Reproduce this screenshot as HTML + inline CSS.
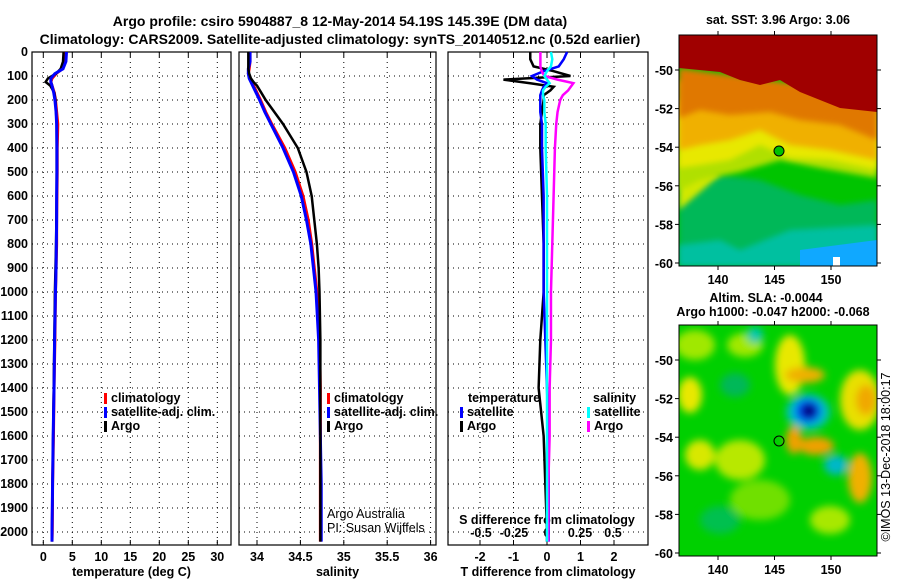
<!DOCTYPE html>
<html><head><meta charset="utf-8"><style>
body{margin:0;background:#fff;width:900px;height:580px;overflow:hidden;font-family:"Liberation Sans",sans-serif}
svg text{font-family:"Liberation Sans",sans-serif;font-weight:bold;font-size:12.5px;fill:#000}
</style></head><body>
<svg id="c" width="900" height="580" xmlns="http://www.w3.org/2000/svg">
<text x="340" y="26" text-anchor="middle" style="font-size:14px">Argo profile: csiro 5904887_8 12-May-2014 54.19S 145.39E (DM data)</text>
<text x="340" y="44" text-anchor="middle" style="font-size:14px">Climatology: CARS2009. Satellite-adjusted climatology: synTS_20140512.nc (0.52d earlier)</text>
<g id="p1"></g>
<g id="p2"></g>
<g id="p3"></g>
<defs>
<clipPath id="m1c"><rect x="679" y="35" width="198" height="231"/></clipPath>
<clipPath id="m2c"><rect x="679" y="325" width="198" height="231"/></clipPath>
<filter id="bl"><feGaussianBlur stdDeviation="4"/></filter>
<filter id="bl2"><feGaussianBlur stdDeviation="3"/></filter>
</defs>
<g>
<text x="778" y="24" text-anchor="middle">sat. SST: 3.96 Argo: 3.06</text>
<g clip-path="url(#m1c)">
<rect x="679" y="35" width="198" height="231" fill="#00c400"/>
<polygon points="679,170 720,175 760,180 800,195 840,205 877,200 877,266 679,266" fill="#00b858" filter="url(#bl2)"/>
<polygon points="679,245 720,240 740,250 790,230 877,225 877,266 679,266" fill="#00c0a0" filter="url(#bl2)"/>
<polygon points="800,250 877,240 877,266 800,266" fill="#10a8ff"/>
<polygon points="679,150 700,160 720,175 679,210" fill="#d0e800" filter="url(#bl2)"/>
<polygon points="679,110 877,120 877,178 820,168 780,160 740,172 700,180 679,190" fill="#b0e000" filter="url(#bl2)"/>
<polygon points="679,100 877,110 877,170 830,160 790,158 760,145 730,160 700,165 679,168" fill="#e8e800" filter="url(#bl2)"/>
<polygon points="679,80 877,95 877,160 830,150 790,145 760,130 730,140 700,145 679,150" fill="#f0b000" filter="url(#bl2)"/>
<polygon points="679,68 877,95 877,140 840,125 800,120 770,112 730,115 700,110 679,118" fill="#e07800" filter="url(#bl2)"/>
<polygon points="679,35 877,35 877,112 840,108 820,100 800,92 780,80 760,85 740,80 720,72 679,68" fill="#a00000"/>
<rect x="833" y="257" width="7" height="9" fill="#fff"/>
</g>
<rect x="679" y="35" width="198" height="231" fill="none" stroke="#000"/>
<circle cx="779" cy="151" r="5" fill="#00c000" stroke="#000"/>
<g id="m1ax"></g>
</g>
<g>
<text x="766" y="302" text-anchor="middle">Altim. SLA: -0.0044</text>
<text x="773" y="316" text-anchor="middle">Argo h1000: -0.047 h2000: -0.068</text>
<g clip-path="url(#m2c)">
<rect x="679" y="325" width="198" height="231" fill="#00d000"/>
<g filter="url(#bl)">
<ellipse cx="695" cy="345" rx="20" ry="15" fill="#a0e800"/>
<ellipse cx="745" cy="345" rx="18" ry="12" fill="#a0e800"/>
<ellipse cx="755" cy="335" rx="8" ry="8" fill="#00c8b0"/>
<ellipse cx="790" cy="365" rx="15" ry="30" fill="#e8e800"/>
<ellipse cx="805" cy="375" rx="20" ry="8" fill="#f0b000"/>
<ellipse cx="860" cy="400" rx="20" ry="30" fill="#e8e000"/>
<ellipse cx="866" cy="400" rx="10" ry="15" fill="#f0a800"/>
<ellipse cx="690" cy="395" rx="12" ry="18" fill="#e8e800"/>
<ellipse cx="735" cy="385" rx="15" ry="12" fill="#00b858"/>
<ellipse cx="740" cy="460" rx="25" ry="20" fill="#b8e800"/>
<ellipse cx="700" cy="455" rx="15" ry="15" fill="#d8e800"/>
<ellipse cx="794" cy="440" rx="8" ry="14" fill="#f0a000"/>
<ellipse cx="816" cy="446" rx="18" ry="9" fill="#f0a000"/>
<ellipse cx="860" cy="478" rx="12" ry="25" fill="#f0b000"/>
<ellipse cx="836" cy="465" rx="12" ry="10" fill="#00b8c8"/>
<ellipse cx="808" cy="412" rx="22" ry="18" fill="#00c0c0"/>
<ellipse cx="808" cy="411" rx="13" ry="12" fill="#0050ff"/>
<ellipse cx="809" cy="411" rx="8" ry="8" fill="#000080"/>
<ellipse cx="720" cy="520" rx="20" ry="14" fill="#00c050"/>
<ellipse cx="830" cy="520" rx="20" ry="14" fill="#a8e800"/>
<ellipse cx="760" cy="500" rx="30" ry="20" fill="#70e000"/>
</g>
</g>
<rect x="679" y="325" width="198" height="231" fill="none" stroke="#000"/>
<circle cx="779" cy="441" r="5" fill="none" stroke="#000"/>
<g id="m2ax"></g>
<text transform="translate(890,457) rotate(-90)" text-anchor="middle" style="font-weight:normal;font-size:12.5px">©IMOS 13-Dec-2018 18:00:17</text>
</g>
</svg>
<script>
// ---- data ----
const depthTicks=[0,100,200,300,400,500,600,700,800,900,1000,1100,1200,1300,1400,1500,1600,1700,1800,1900,2000];
const tempTicks=[0,5,10,15,20,25,30];
const salTicks=[34,34.5,35,35.5,36];
const salTickLabels=["34","34.5","35","35.5","36"];
const tdTicks=[-2,-1,0,1,2];
const sdTicks=[-0.5,-0.25,0,0.25,0.5];
const sdTickLabels=["-0.5","-0.25","0","0.25","0.5"];
const profDepth=[0,40,70,90,110,125,140,170,200,250,300,400,500,600,700,800,900,1000,1200,1400,1600,1800,2000,2040];
const tempArgo=[3.5,3.4,3.0,2.2,0.8,0.4,1.2,1.9,2.1,2.2,2.3,2.3,2.3,2.3,2.25,2.2,2.1,2.0,1.9,1.8,1.7,1.6,1.5,1.5];
const tempClim=[3.7,3.6,3.3,2.2,1.5,1.3,1.5,1.9,2.1,2.3,2.5,2.4,2.4,2.35,2.3,2.3,2.2,2.1,2.0,1.85,1.75,1.6,1.55,1.5];
const tempSat=[4.0,3.9,3.4,2.0,1.3,1.3,1.5,1.8,2.0,2.2,2.3,2.35,2.35,2.3,2.3,2.25,2.2,2.1,1.95,1.85,1.7,1.6,1.5,1.5];
const salArgo=[33.9,33.9,33.9,33.91,33.93,33.96,34.0,34.05,34.1,34.2,34.3,34.47,34.57,34.63,34.66,34.69,34.71,34.72,34.73,34.73,34.73,34.73,34.73,34.73];
const salClim=[33.92,33.92,33.91,33.9,33.92,33.94,33.96,34.0,34.04,34.1,34.17,34.32,34.44,34.53,34.59,34.63,34.66,34.69,34.72,34.73,34.73,34.73,34.73,34.73];
const salSat=[33.92,33.92,33.9,33.9,33.91,33.93,33.95,33.99,34.03,34.09,34.16,34.3,34.42,34.51,34.57,34.62,34.65,34.68,34.71,34.72,34.73,34.74,34.74,34.74];
const diffDepth=[0,30,60,80,100,115,130,145,160,180,200,250,300,400,600,800,1000,1200,1400,1600,1800,2000,2040];
const tdArgo=[-0.5,-0.5,-0.4,0.2,0.7,-1.3,-0.5,0.2,0.1,-0.1,-0.1,-0.15,-0.2,-0.2,-0.15,-0.1,-0.1,-0.2,-0.25,-0.1,-0.05,0,0];
const tdSat=[0.6,0.5,0.35,-0.1,-0.45,-0.3,0,-0.1,-0.15,-0.2,-0.2,-0.2,-0.15,-0.15,-0.1,-0.1,-0.1,-0.05,0,0.05,0.05,0.05,0.05];
const sdSat=[0.03,0.04,0.03,0.0,-0.02,0.0,0.02,-0.01,-0.03,-0.03,-0.02,-0.02,-0.01,-0.01,0,0,0,0,0,0,0,0,0];
const sdArgo=[-0.05,-0.05,-0.05,-0.04,-0.02,0.08,0.2,0.18,0.16,0.12,0.1,0.08,0.07,0.06,0.05,0.04,0.03,0.03,0.02,0.02,0.01,0.01,0.01];
const latTicks=[-50,-52,-54,-56,-58,-60];
const lonTicks=[140,145,150];
// ---- helpers ----
const NS='http://www.w3.org/2000/svg';
function mk(par,tag,at,txt){const e=document.createElementNS(NS,tag);for(const k in at)e.setAttribute(k,at[k]);if(txt!==undefined)e.textContent=txt;par.appendChild(e);return e;}
const Y0=52,Y1=545;
const yD=d=>Y0+d*0.24;
function frame(g,x0,x1,xTicks,xLbl,xs,title,yLabels,name){
  mk(g,'rect',{x:x0,y:Y0,width:x1-x0,height:Y1-Y0,fill:'none',stroke:'#000','stroke-width':1.2});
  depthTicks.forEach((d,i)=>{const y=yD(d);
    const l=mk(g,'line',{x1:x0,x2:x1,y1:y,y2:y,stroke:'#000','stroke-dasharray':'1,4'});
    
    if(yLabels){const t=mk(g,'text',{x:x0-4,y:y+4,'text-anchor':'end'},d);
      }
  });
  xTicks.forEach((v,i)=>{const x=xs(v);
    const l=mk(g,'line',{x1:x,x2:x,y1:Y0,y2:Y1,stroke:'#000','stroke-dasharray':'1,4'});
    
    mk(g,'line',{x1:x,x2:x,y1:Y1,y2:Y1-5,stroke:'#000'});
    mk(g,'line',{x1:x,x2:x,y1:Y0,y2:Y0+5,stroke:'#000'});
    const t=mk(g,'text',{x:x,y:Y1+16,'text-anchor':'middle'},xLbl[i]);
    
  });
  const t=mk(g,'text',{x:(x0+x1)/2,y:Y1+31,'text-anchor':'middle'},title);
  
}
function line(g,xs,vals,depths,color,w,name){
  const p=mk(g,'polyline',{points:vals.map((v,i)=>xs(v)+','+yD(depths[i])).join(' '),fill:'none',stroke:color,'stroke-width':w});
  
}
function leg(g,x,y,color,txt,name){
  mk(g,'rect',{x:x,y:y-9,width:3,height:11,fill:color});
  const t=mk(g,'text',{x:x+7,y:y},txt);
  
}
// panel 1
const p1=document.getElementById('p1');
const xT=v=>43.3+v*5.8;
frame(p1,32,231,tempTicks,tempTicks.map(String),xT,'temperature (deg C)',true,'temperature');
line(p1,xT,tempClim,profDepth,'#ff0000',3,'climatology-temperature-line');
line(p1,xT,tempArgo,profDepth,'#000',2.5,'argo-temperature-line');
line(p1,xT,tempSat,profDepth,'#0000ff',3,'satellite-temperature-line');
leg(p1,104,402,'#ff0000','climatology','legend-climatology');
leg(p1,104,416,'#0000ff','satellite-adj. clim.','legend-satellite');
leg(p1,104,430,'#000','Argo','legend-argo');
// panel 2
const p2=document.getElementById('p2');
const xS=v=>257+(v-34)*86.8;
frame(p2,239,436,salTicks,salTickLabels,xS,'salinity',false,'salinity');
line(p2,xS,salClim,profDepth,'#ff0000',3,'climatology-salinity-line');
line(p2,xS,salSat,profDepth,'#0000ff',3,'satellite-salinity-line');
line(p2,xS,salArgo,profDepth,'#000',2.5,'argo-salinity-line');
leg(p2,327,402,'#ff0000','climatology','legend-climatology-sal');
leg(p2,327,416,'#0000ff','satellite-adj. clim.','legend-satellite-sal');
leg(p2,327,430,'#000','Argo','legend-argo-sal');
const a1=mk(p2,'text',{x:327,y:518,style:'font-weight:normal'},'Argo Australia');
const a2=mk(p2,'text',{x:327,y:532,style:'font-weight:normal'},'PI: Susan Wijffels');
// panel 3
const p3=document.getElementById('p3');
const xTD=v=>547+v*33.5, xSD=v=>547+v*132;
frame(p3,448,648,tdTicks,tdTicks.map(String),xTD,'T difference from climatology',false,'t-difference');
sdTicks.forEach((v,i)=>{const t=mk(p3,'text',{x:xSD(v),y:537,'text-anchor':'middle'},sdTickLabels[i]);
  });
const st=mk(p3,'text',{x:547,y:524,'text-anchor':'middle'},'S difference from climatology');
line(p3,xTD,tdArgo,diffDepth,'#000',2.5,'argo-t-difference-line');
line(p3,xTD,tdSat,diffDepth,'#0000ff',2.5,'satellite-t-difference-line');
line(p3,xSD,sdArgo,diffDepth,'#ff00ff',2.5,'argo-s-difference-line');
line(p3,xSD,sdSat,diffDepth,'#00ffff',2.5,'satellite-s-difference-line');
const lt=mk(p3,'text',{x:468,y:402},'temperature');
const ls=mk(p3,'text',{x:593,y:402},'salinity');
leg(p3,460,416,'#0000ff','satellite','legend-t-satellite');
leg(p3,460,430,'#000','Argo','legend-t-argo');
leg(p3,587,416,'#00ffff','satellite','legend-s-satellite');
leg(p3,587,430,'#ff00ff','Argo','legend-s-argo');
// map axes
function mapAx(id,top,bot,latY0){
  const g=document.getElementById(id);
  const yL=v=>latY0+(-50-v)*19.3, xL=v=>718+(v-140)*11.3;
  latTicks.forEach(v=>{const y=yL(v);
    mk(g,'line',{x1:679,x2:675,y1:y,y2:y,stroke:'#000'});mk(g,'line',{x1:877,x2:881,y1:y,y2:y,stroke:'#000'});
    const t=mk(g,'text',{x:673,y:y+5,'text-anchor':'end'},v);});
  lonTicks.forEach(v=>{const x=xL(v);
    mk(g,'line',{x1:x,x2:x,y1:top,y2:top-4,stroke:'#000'});mk(g,'line',{x1:x,x2:x,y1:bot,y2:bot+4,stroke:'#000'});
    const t=mk(g,'text',{x:x,y:bot+18,'text-anchor':'middle'},v);});
}
mapAx('m1ax',35,266,70);
mapAx('m2ax',325,556,360);
</script>
</body></html>
